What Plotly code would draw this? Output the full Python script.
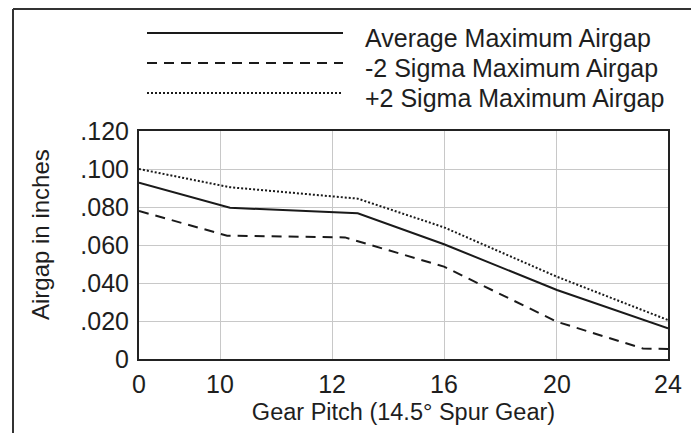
import plotly.graph_objects as go

# ---- data ----
pitch_labels = ["0", "10", "12", "16", "20", "24"]
pitch_pos = [0, 0.726, 1.73, 2.733, 3.745, 4.74]

avg_x = [0, 0.815, 1.96, 2.733, 3.745, 4.74]
avg_y = [0.0928, 0.0796, 0.0767, 0.0604, 0.0363, 0.0161]

minus_x = [0, 0.79, 1.846, 2.733, 3.745, 4.516, 4.74]
minus_y = [0.0779, 0.0649, 0.0640, 0.0486, 0.0196, 0.0055, 0.0053]

plus_x = [0, 0.815, 1.96, 2.733, 3.745, 4.74]
plus_y = [0.100, 0.0904, 0.0844, 0.0693, 0.0433, 0.0205]

y_ticks = [0, 0.02, 0.04, 0.06, 0.08, 0.10, 0.12]
y_ticktext = ["0", ".020", ".040", ".060", ".080", ".100", ".120"]

series_names = ["Average Maximum Airgap", "-2 Sigma Maximum Airgap", "+2 Sigma Maximum Airgap"]
x_title = "Gear Pitch (14.5° Spur Gear)"
y_title = "Airgap in inches"

# ---- layout geometry (pixels, in the 699x433 window; page body has 8px margin) ----
OFF = 8
W, H = 699 - OFF, 433 - OFF
L, R, T, B = 139 - OFF, 668 - OFF, 131 - OFF, 359 - OFF

def px(x):
    return (x - OFF - L) / (R - L)

def py(y):
    return (B - (y - OFF)) / (B - T)

FONT = "Liberation Sans, Arial, sans-serif"
TXT = "#1e1e1e"
LW = 2
DASH = "10px,7px"
DOT = "2px,2px"

fig = go.Figure()
fig.add_trace(go.Scatter(x=avg_x, y=avg_y, mode="lines", name=series_names[0],
                         line=dict(color="#1a1a1a", width=LW)))
fig.add_trace(go.Scatter(x=minus_x, y=minus_y, mode="lines", name=series_names[1],
                         line=dict(color="#1a1a1a", width=LW, dash=DASH)))
fig.add_trace(go.Scatter(x=plus_x, y=plus_y, mode="lines", name=series_names[2],
                         line=dict(color="#1a1a1a", width=LW, dash=DOT)))

shapes = []
# outer frame (top and left edges)
shapes.append(dict(type="line", xref="paper", yref="paper",
                   x0=px(13), x1=px(710), y0=py(9), y1=py(9),
                   line=dict(color="#333333", width=2)))
shapes.append(dict(type="line", xref="paper", yref="paper",
                   x0=px(13), x1=px(13), y0=py(9), y1=py(445),
                   line=dict(color="#333333", width=2)))

# manual legend
leg_rows = [33, 63, 93]
leg_dash = ["solid", DASH, DOT]
annotations = []
for i, name in enumerate(series_names):
    shapes.append(dict(type="line", xref="paper", yref="paper",
                       x0=px(147), x1=px(343), y0=py(leg_rows[i]), y1=py(leg_rows[i]),
                       line=dict(color="#1a1a1a", width=2, dash=leg_dash[i])))
    annotations.append(dict(xref="paper", yref="paper", x=px(363), y=py(leg_rows[i] + 5),
                            xanchor="left", yanchor="middle", showarrow=False,
                            text=name, font=dict(family=FONT, size=25, color=TXT)))

# y-axis title
annotations.append(dict(xref="paper", yref="paper", x=px(40), y=py(235),
                        xanchor="center", yanchor="middle", showarrow=False, textangle=-90,
                        text=y_title, font=dict(family=FONT, size=24, color=TXT)))

fig.update_layout(
    width=W, height=H,
    margin=dict(l=L, r=W - R, t=T, b=H - B, pad=0),
    paper_bgcolor="white", plot_bgcolor="white",
    showlegend=False,
    font=dict(family=FONT, size=25, color=TXT),
    shapes=shapes, annotations=annotations,
    xaxis=dict(range=[0, pitch_pos[-1]], tickvals=pitch_pos, ticktext=pitch_labels,
               showgrid=True, gridcolor="#c8c8c8", gridwidth=1,
               showline=True, linecolor="#222222", linewidth=2, mirror=True,
               ticks="", zeroline=False, ticklabelstandoff=2,
               tickfont=dict(family=FONT, size=25, color=TXT),
               title=dict(text=x_title, standoff=7,
                          font=dict(family=FONT, size=23.5, color=TXT)),
               automargin=False, fixedrange=True),
    yaxis=dict(range=[0, 0.12], tickvals=y_ticks, ticktext=y_ticktext,
               showgrid=True, gridcolor="#c8c8c8", gridwidth=1,
               showline=True, linecolor="#222222", linewidth=2, mirror=True,
               ticks="", zeroline=False, ticklabelstandoff=3,
               tickfont=dict(family=FONT, size=25, color=TXT),
               automargin=False, fixedrange=True),
)

fig.write_html("out.html", config={"displayModeBar": False})
